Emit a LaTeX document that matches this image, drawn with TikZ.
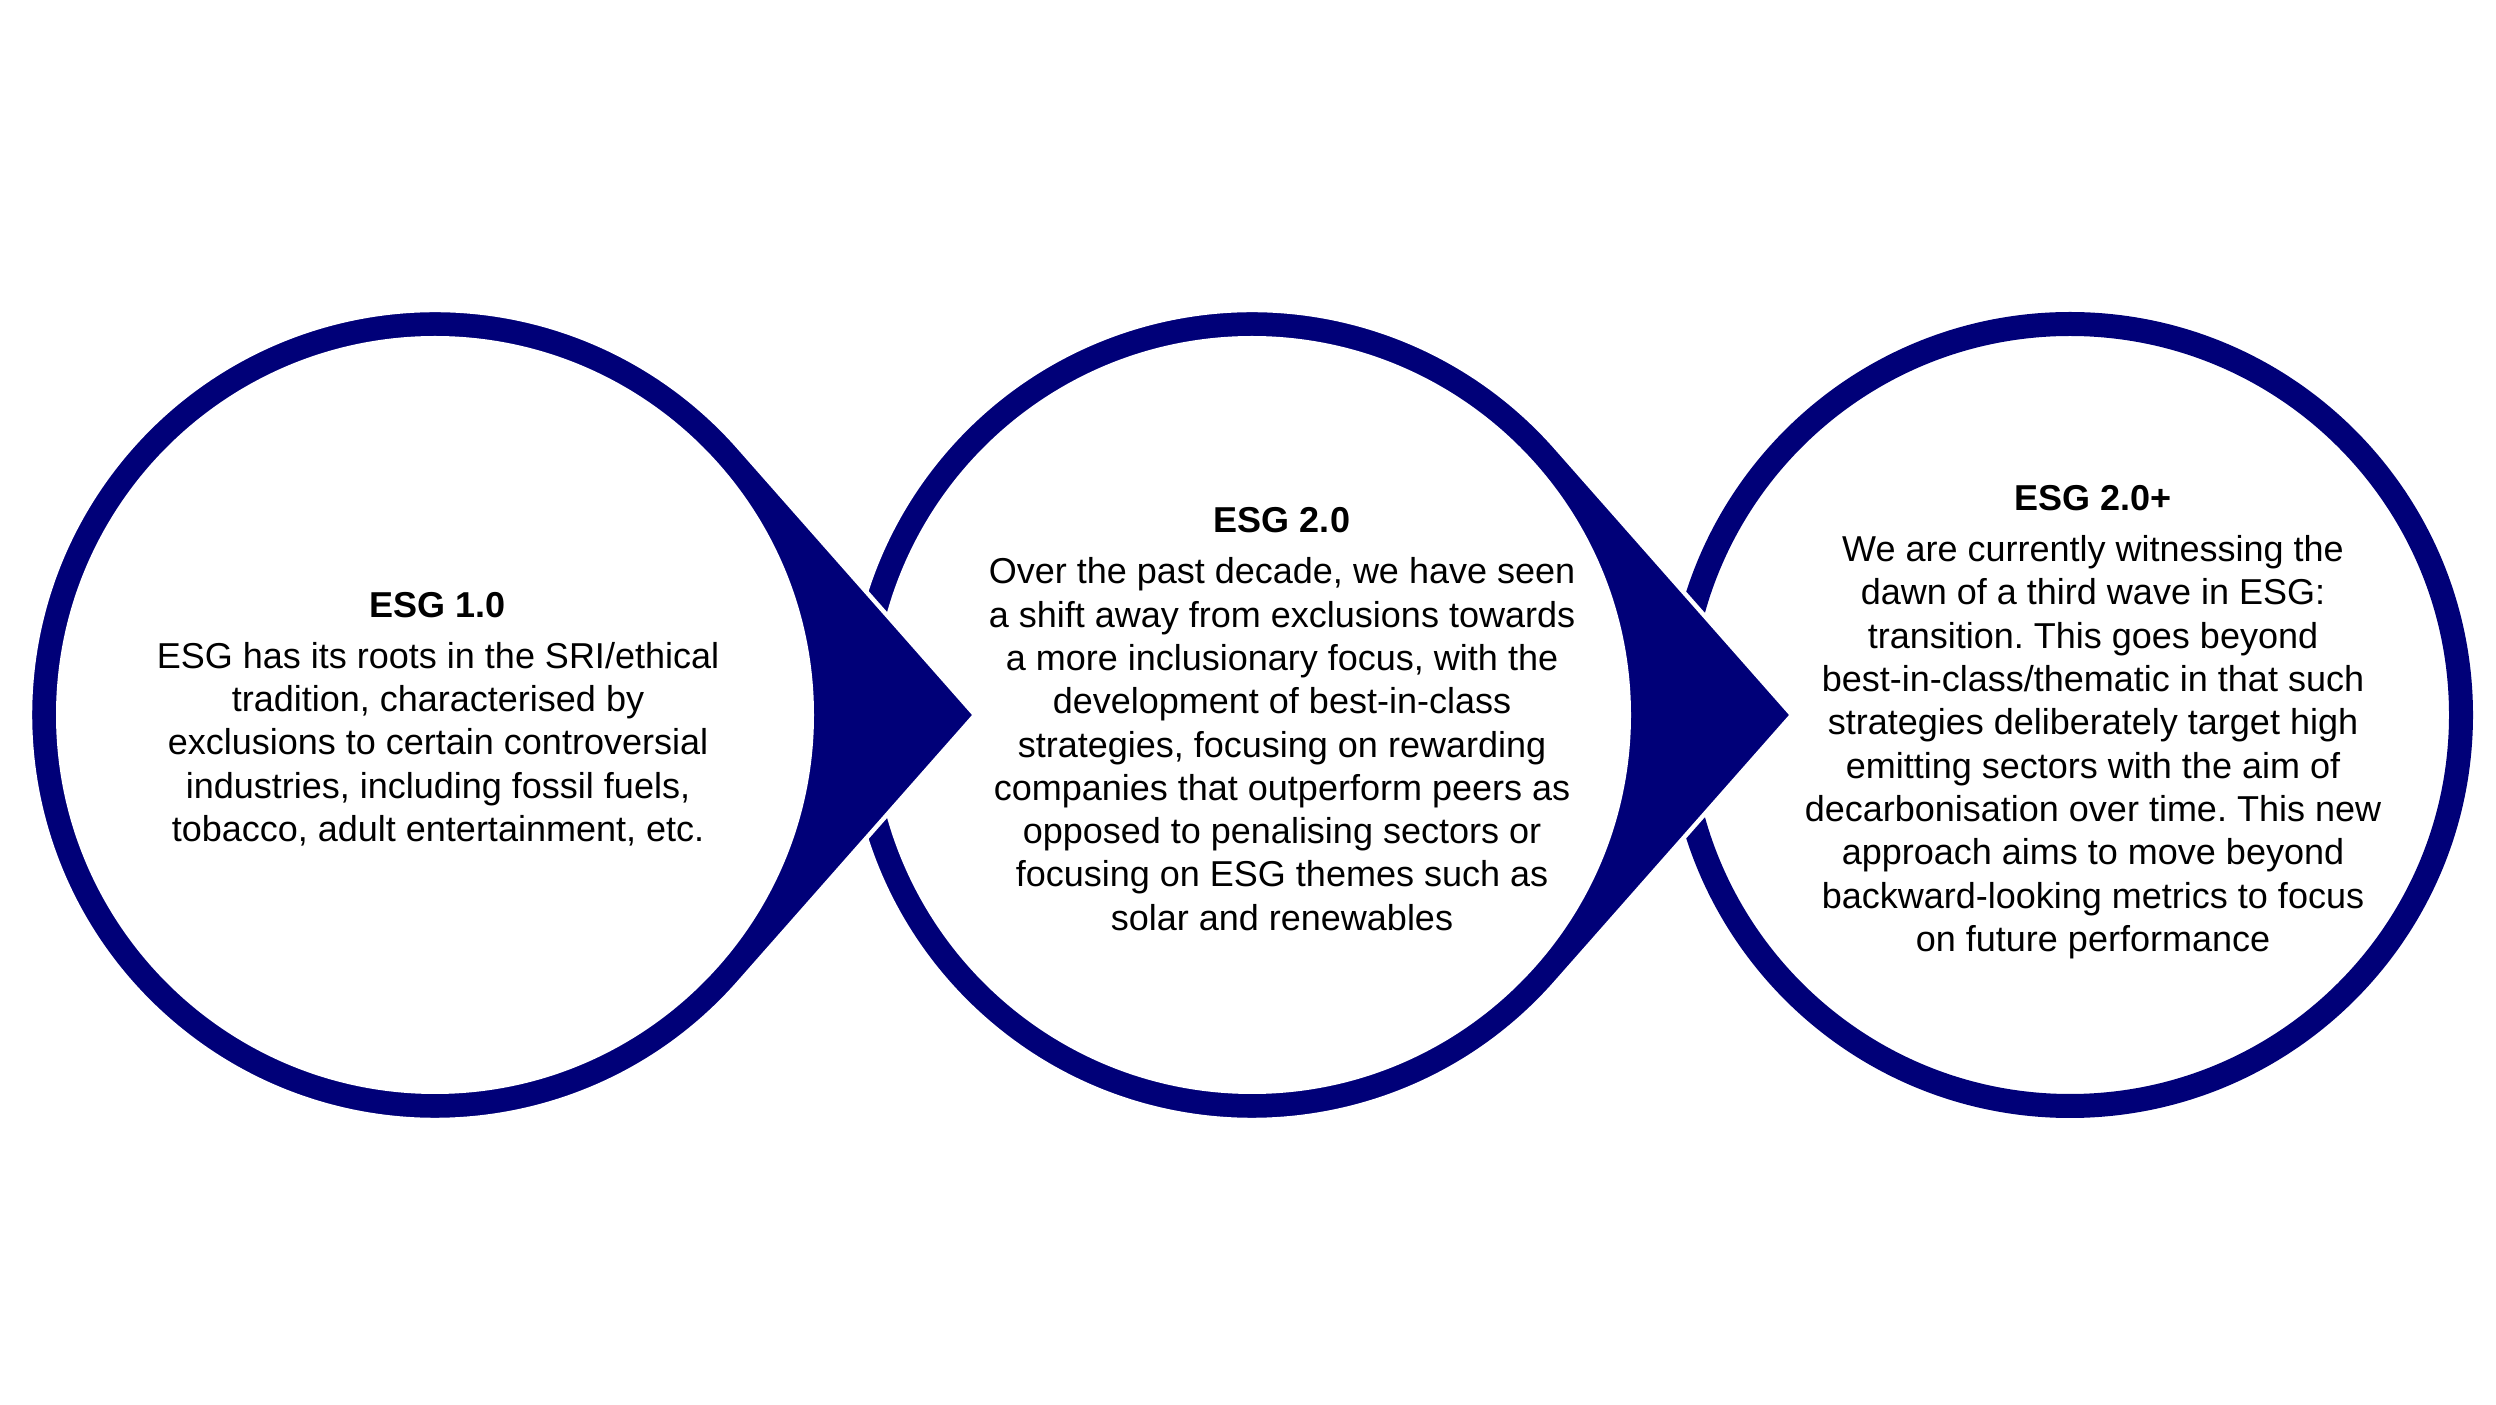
\documentclass[tikz,border=0pt]{standalone}
\usepackage{fontspec}
\setmainfont{Liberation Sans}
\usetikzlibrary{calc}
\frenchspacing
\definecolor{esgnavy}{RGB}{0,0,120}
\tikzset{
  drop/.style={fill=esgnavy, draw=white, line width=2.2pt},
  hole/.style={fill=white},
  ringonly/.style={draw=esgnavy, line width=12pt},
  esgtext/.style={align=center, inner sep=0pt, text=black,
    font=\fontsize{18}{21.65}\selectfont}
}
\begin{document}
\begin{tikzpicture}[x=0.5pt,y=0.5pt]
\useasboundingbox[fill=white] (0,0) rectangle (2496,1404);
\coordinate (c1) at (435,689);
\coordinate (c2) at (1252,689);
\coordinate (c3) at (2070,689);
% circle 3: plain ring
\draw[ringonly] (c3) circle[radius=391];
% circle 2 with pointer
\path[drop] ([shift={(41.73:405)}]c2) -- ([shift={(540,0)}]c2) -- ([shift={(-41.73:405)}]c2)
  arc[start angle=-41.73, end angle=-318.27, radius=405] -- cycle;
\fill[hole] (c2) circle[radius=379];
% circle 1 with pointer
\path[drop] ([shift={(41.73:405)}]c1) -- ([shift={(540,0)}]c1) -- ([shift={(-41.73:405)}]c1)
  arc[start angle=-41.73, end angle=-318.27, radius=405] -- cycle;
\fill[hole] (c1) circle[radius=379];
% texts
\node[esgtext] (t1) at (438,685) {\textbf{ESG 1.0}\\[4pt]
ESG has its roots in the SRI/ethical\\
tradition, characterised by\\
exclusions to certain controversial\\
industries, including fossil fuels,\\
tobacco, adult entertainment, etc.};
\node[esgtext] (t2) at (1282,685) {\textbf{ESG 2.0}\\[4pt]
Over the past decade, we have seen\\
a shift away from exclusions towards\\
a more inclusionary focus, with the\\
development of best-in-class\\
strategies, focusing on rewarding\\
companies that outperform peers as\\
opposed to penalising sectors or\\
focusing on ESG themes such as\\
solar and renewables};
\node[esgtext] (t3) at (2093,682) {\textbf{ESG 2.0+}\\[4pt]
We are currently witnessing the\\
dawn of a third wave in ESG:\\
transition. This goes beyond\\
best-in-class/thematic in that such\\
strategies deliberately target high\\
emitting sectors with the aim of\\
decarbonisation over time. This new\\
approach aims to move beyond\\
backward-looking metrics to focus\\
on future performance};
\end{tikzpicture}
\end{document}
